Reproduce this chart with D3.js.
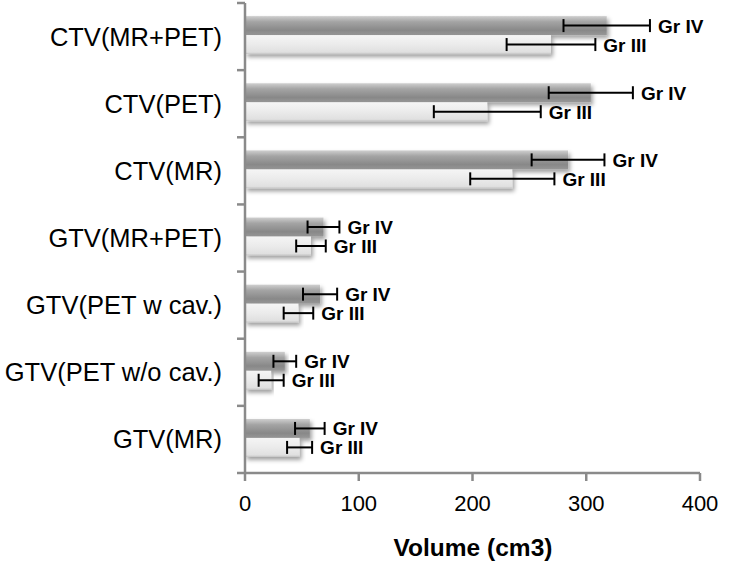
<!DOCTYPE html>
<html><head><meta charset="utf-8">
<script src="https://cdn.jsdelivr.net/npm/d3@7"></script>
<style>body{margin:0;background:#fff}svg{display:block}</style>
</head><body>
<script>
const categories = ["CTV(MR+PET)","CTV(PET)","CTV(MR)","GTV(MR+PET)","GTV(PET w cav.)","GTV(PET w/o cav.)","GTV(MR)"];
const series = ["Gr IV","Gr III"];
const grIV = [318, 304, 284, 69, 66, 35, 57];
const grIVerr = [38, 37, 32, 14, 15, 10, 13];
const grIII = [269, 213, 235, 58, 47, 23, 48];
const grIIIerr = [39, 47, 37, 13, 13, 11, 11];
const xTicks = [0,100,200,300,400];

const W=740,H=562;
const FONT="Liberation Sans, Arial, sans-serif";
const svg=d3.select("body").append("svg").attr("width",W).attr("height",H);
const defs=svg.append("defs");
const gDark=defs.append("linearGradient").attr("id","gDark").attr("x1",0).attr("y1",0).attr("x2",0).attr("y2",1);
[[0,"#cfcfcf"],[0.3,"#a4a4a4"],[0.75,"#888888"],[1,"#979797"]].forEach(s=>gDark.append("stop").attr("offset",s[0]).attr("stop-color",s[1]));
const gLight=defs.append("linearGradient").attr("id","gLight").attr("x1",0).attr("y1",0).attr("x2",0).attr("y2",1);
[[0,"#f5f5f5"],[0.5,"#ebebeb"],[0.9,"#e0e0e0"],[1,"#c4c4c4"]].forEach(s=>gLight.append("stop").attr("offset",s[0]).attr("stop-color",s[1]));
const f=defs.append("filter").attr("id","sh").attr("x","-5%").attr("y","-30%").attr("width","115%").attr("height","170%");
f.append("feDropShadow").attr("dx",2).attr("dy",3).attr("stdDeviation",2).attr("flood-color","#000").attr("flood-opacity",0.38);

const x=d3.scaleLinear().domain([0,400]).range([245,700]);
const y=d3.scaleBand().domain(categories).range([3,473]);
const ys=d3.scaleBand().domain(series).range([-1.5,y.bandwidth()-1.5]).paddingOuter(0.77);

const data=[];
categories.forEach((c,i)=>{
  data.push({cat:c,s:"Gr IV",v:grIV[i],e:grIVerr[i]});
  data.push({cat:c,s:"Gr III",v:grIII[i],e:grIIIerr[i]});
});

const bars=svg.append("g");
bars.selectAll("rect").data(data.slice().sort((a,b)=>a.s==="Gr IV"?-1:1)).join("rect")
  .attr("x",x(0)).attr("y",d=>y(d.cat)+ys(d.s)).attr("width",d=>x(d.v)-x(0)).attr("height",ys.bandwidth())
  .attr("fill",d=>d.s==="Gr IV"?"url(#gDark)":"url(#gLight)").attr("filter","url(#sh)");

const axCol="#8a8a8a";
const ax=svg.append("g");
ax.append("line").attr("x1",x(0)).attr("x2",x(0)).attr("y1",3).attr("y2",473).attr("stroke",axCol).attr("stroke-width",2.5);
const bounds=categories.map(c=>y(c)).concat([473]);
ax.selectAll(".yt").data(bounds).join("line").attr("x1",x(0)-8).attr("x2",x(0)).attr("y1",d=>d).attr("y2",d=>d).attr("stroke",axCol).attr("stroke-width",2.5);
ax.append("line").attr("x1",x(0)).attr("x2",x(400)).attr("y1",473).attr("y2",473).attr("stroke",axCol).attr("stroke-width",2.5);
ax.selectAll(".xt").data(xTicks).join("line").attr("x1",d=>x(d)).attr("x2",d=>x(d)).attr("y1",473).attr("y2",481).attr("stroke",axCol).attr("stroke-width",2.5);
ax.selectAll(".xl").data(xTicks).join("text").attr("x",d=>x(d)).attr("y",511).attr("text-anchor","middle")
  .attr("font-family",FONT).attr("font-size",22).attr("fill","#000").text(d=>d);
ax.selectAll(".yl").data(categories).join("text").attr("x",222).attr("y",d=>y(d)+y.bandwidth()/2+9).attr("text-anchor","end")
  .attr("font-family",FONT).attr("font-size",25.5).attr("fill","#000").text(d=>d);
svg.append("text").attr("x",473).attr("y",556).attr("text-anchor","middle").attr("font-family",FONT)
  .attr("font-size",24.5).attr("font-weight","bold").text("Volume (cm3)");

const eb=svg.append("g").attr("stroke","#000").attr("stroke-width",2);
data.forEach(d=>{
  const cy=y(d.cat)+ys(d.s)+ys.bandwidth()/2;
  const x1=x(d.v-d.e), x2=x(d.v+d.e);
  eb.append("line").attr("x1",x1).attr("x2",x2).attr("y1",cy).attr("y2",cy);
  eb.append("line").attr("x1",x1).attr("x2",x1).attr("y1",cy-6.5).attr("y2",cy+6.5);
  eb.append("line").attr("x1",x2).attr("x2",x2).attr("y1",cy-6.5).attr("y2",cy+6.5);
  svg.append("text").attr("x",x2+8).attr("y",cy+7).attr("font-family",FONT)
    .attr("font-size",19).attr("font-weight","bold").text(d.s);
});
</script>
</body></html>
